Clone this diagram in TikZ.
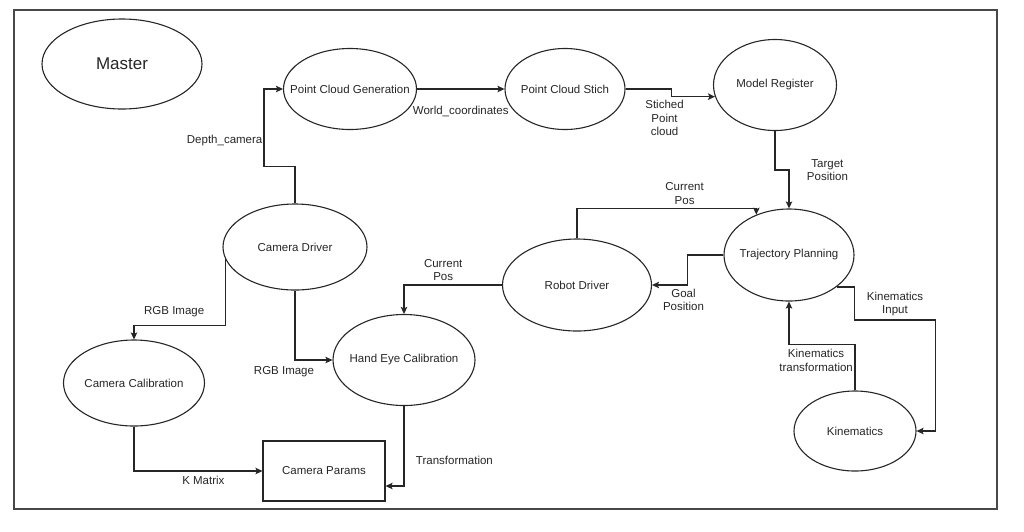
\documentclass[tikz,border=0pt]{standalone}
\usepackage{fontspec}
\setmainfont{Liberation Sans}
\usetikzlibrary{arrows.meta,positioning,shapes.geometric}

\definecolor{ink}{RGB}{38,38,38}
\definecolor{framegray}{RGB}{72,72,72}

\tikzset{
    proc/.style={ellipse, draw=ink, line width=1.1pt, text=ink, inner xsep=-20pt, inner ysep=0pt,
        font=\fontsize{11.5}{13.5}\selectfont},
    store/.style={rectangle, draw=ink, line width=1.1pt, text=ink, font=\fontsize{11.5}{13.5}\selectfont},
    flow/.style={draw=ink, line width=1.3pt, -{Stealth[length=7pt,width=6.5pt,inset=1.5pt]}},
    lbl/.style={text=ink, align=center, font=\fontsize{11.5}{13.5}\selectfont},
}

\begin{document}
\begin{tikzpicture}[x=1pt, y=-1pt] % robot vision pipeline, pixel coordinates
    \useasboundingbox (0,0) rectangle (1024,531);
    \draw[framegray, line width=1.5pt] (14,10) rectangle (997,509);

    \node[proc, minimum width=160pt, minimum height=90pt, font=\fontsize{17}{20}\selectfont] (master) at (122,64) {Master};
    \node[proc, minimum width=133pt, minimum height=81pt] (pcg) at (350,89) {Point Cloud Generation};
    \node[proc, minimum width=120pt, minimum height=81pt] (pcs) at (565,89) {Point Cloud Stich};
    \node[proc, minimum width=123pt, minimum height=91pt] (modreg) at (775,85) {Model Register};
    \node[proc, minimum width=130pt, minimum height=92pt] (traj) at (789,255) {Trajectory Planning};
    \node[proc, minimum width=149pt, minimum height=92pt] (robot) at (577,285) {Robot Driver};
    \node[proc, minimum width=144pt, minimum height=86pt] (camdrv) at (295,247) {Camera Driver};
    \node[proc, minimum width=141pt, minimum height=86pt] (camcal) at (134,383) {Camera Calibration};
    \node[proc, minimum width=142pt, minimum height=91pt] (handeye) at (404,360) {Hand Eye Calibration};
    \node[store, minimum width=122pt, minimum height=60pt] (params) at (324,471) {Camera Params};
    \node[proc, minimum width=122pt, minimum height=80pt] (kin) at (855,431) {Kinematics};

    \draw[flow] (camdrv.north) -- ++(0,-37) -- ++(-31,0) |- node[lbl, pos=0.17, left, inner sep=1pt] {Depth\_camera} (pcg.west);
    \draw[flow] (pcg.east) -- node[lbl, below=13pt] {World\_coordinates} (pcs.west);
    \draw[flow] (pcs.east) -- ++(46,0) |- node[lbl, pos=0.5, below, xshift=-7pt] {Stiched\\Point\\cloud} (modreg.191);
    \draw[flow] (modreg.south) -- ++(0,39) -| node[lbl, pos=0.5, right=14pt] {Target\\Position} (traj.north);
    \draw[flow] (robot.north) -- ++(0,-30) -| node[lbl, pos=0.3, above] {Current\\Pos} (traj.129.5);
    \draw[flow] (traj.west) -- ++(-36,0) |- node[lbl, pos=0.5, below, xshift=-4pt] {Goal\\Position} (robot.east);
    \draw[flow] (robot.west) -| node[lbl, pos=0.3, above] {Current\\Pos} (handeye.north);
    \draw[flow] (camdrv.190) -- ++(0,66) -| node[lbl, pos=0.28, above=4pt] {RGB Image} (camcal.north);
    \draw[flow] (camdrv.south) |- node[lbl, pos=0.5, below=2pt, xshift=-11pt] {RGB Image} (handeye.west);
    \draw[flow] (camcal.south) |- node[lbl, pos=0.77, below=1pt] {K Matrix} (params.west);
    \draw[flow] (handeye.south) |- node[lbl, pos=0.34, right=8pt] {Transformation} ([yshift=-15pt]params.east);
    \draw[flow] (traj.326) -- ++(18,0) -- ++(0,33) -- node[lbl, above] {Kinematics\\Input} ++(81,0) |- (kin.east);
    \draw[flow] (kin.north) -- node[lbl, pos=0.65, left, inner sep=1.5pt] {Kinematics\\transformation} ++(0,-46) -| (traj.south);
\end{tikzpicture}
\end{document}
